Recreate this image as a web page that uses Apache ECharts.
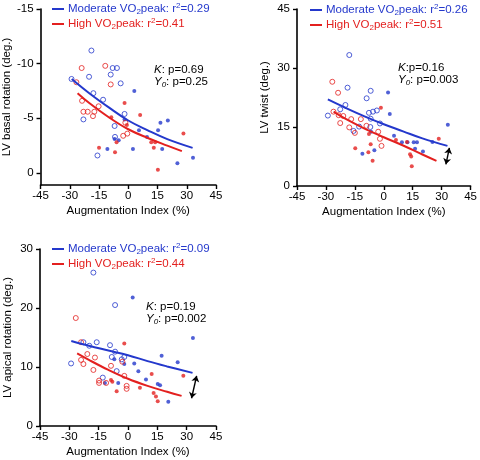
<!DOCTYPE html>
<html><head><meta charset="utf-8">
<script src="https://cdn.jsdelivr.net/npm/echarts@6/dist/echarts.min.js"></script>
<style>html,body{margin:0;padding:0;background:#fff}#c{width:480px;height:460px}</style>
</head><body><div id="c"></div>
<script>
const BLUE = '#2438cc', RED = '#e3201f';
const FONT = 'Liberation Sans, Arial, sans-serif';

// tick labels
const xTicks = [-45, -30, -15, 0, 15, 30, 45];
const p1YTicks = [-15, -10, -5, 0];
const p2YTicks = [0, 15, 30, 45];
const p3YTicks = [0, 10, 20, 30];

// legend names (series names of fitted curves)
const p1Names = ['Moderate VO2peak: r2=0.29', 'High VO2peak: r2=0.41'];
const p2Names = ['Moderate VO2peak: r2=0.26', 'High VO2peak: r2=0.51'];
const p3Names = ['Moderate VO2peak: r2=0.09', 'High VO2peak: r2=0.44'];
const p1Stats = ['0.69', '0.25'];
const p2Stats = ['0.16', '0.003'];
const p3Stats = ['0.19', '0.002'];

// Panel 1: LV basal rotation
const p1ModOpen = [[-18.9,-11.2],[-29.1,-8.6],[-8.0,-9.6],[-5.8,-9.6],[-20.1,-8.8],[-9.0,-9.0],[-3.9,-8.2],[-17.9,-7.3],[-12.9,-6.7],[-1.9,-5.4],[-23,-4.9],[-7,-4.3],[-6.8,-3.3],[-15.8,-1.6]];
const p1ModFilled = [[3.1,-7.5],[-1.9,-4.9],[5.5,-3.9],[9.6,-3.3],[16.5,-4.6],[15.3,-3.9],[20.3,-4.8],[17.4,-2.2],[2.4,-2.2],[-10.7,-2.2],[-4.9,-3.0],[-7,-3.1],[25.2,-0.9],[33.2,-1.4]];
const p1HighOpen = [[-23.9,-9.6],[-11.8,-9.8],[-9,-8.1],[-26.6,-8.3],[-23.7,-6.6],[-23,-5.6],[-20.8,-5.6],[-17.4,-5.6],[-18.1,-5.2],[-15.2,-6.1],[-1.5,-4.6],[-0.5,-3.6],[-2.6,-3.4]];
const p1HighFilled = [[-1.9,-6.4],[-8.7,-5.1],[6.1,-5.3],[-0.7,-4.4],[-6,-2.8],[-15,-2.3],[-6.8,-1.9],[11.8,-2.8],[13.8,-2.8],[13.1,-2.3],[28.3,-3.6],[15.2,-0.3]];
const p1ModFit = [[-29,-8.6],[-20,-7.3],[-10,-6.0],[0,-4.8],[10,-3.9],[20,-3.1],[33,-2.3]];
const p1HighFit = [[-26,-7.3],[-20,-6.4],[-10,-5.1],[0,-4.0],[10,-3.2],[20,-2.5],[27.5,-2.0]];

// Panel 2: LV twist
const p2ModOpen = [[-17.9,33.3],[-18.8,25.0],[-6.8,24.2],[-8.9,22.3],[-19.9,20.6],[-22.6,19.5],[-29,17.9],[-7.7,18.6],[-5.6,18.9],[-3.6,19.2],[-6.8,17.1],[-12.8,15.1],[-15.7,14.0],[-2,15.9],[-7,15.0]];
const p2ModFilled = [[2.2,23.8],[3.1,18.3],[33.2,15.6],[-6.6,13.8],[5.3,12.8],[9.4,11.1],[12.3,11.1],[15.5,11.1],[17.2,11.1],[25.2,11.2],[16.2,9.5],[20.3,8.8],[-4.9,9.1],[-11.1,8.2]];
const p2HighOpen = [[-26.7,26.5],[-23.7,23.7],[-26.1,18.9],[-23.4,18.0],[-21,17.8],[-22.6,16],[-16.9,17],[-11.9,17.0],[-17.9,14.9],[-15,13.5],[-9,15.3],[-2.9,13.8],[-2,12],[-1.2,10.2]];
const p2HighFilled = [[-1.5,19.9],[-7.7,13.2],[-14.8,9.6],[-6.8,10.6],[-8,8.6],[-5.8,6.4],[6.3,11.7],[12,11.2],[13.6,8.1],[14.2,7.5],[14.5,5],[28.5,12]];
const p2ModFit = [[-29,22.0],[-20,19.9],[-10,17.7],[0,15.7],[10,13.9],[20,12.1],[33,10.2]];
const p2HighFit = [[-26,18.9],[-20,17.1],[-10,14.6],[0,12.4],[10,10.3],[20,8.0],[27.3,6.4]];
const p2Arrow = [[34.0,9.7],[32.2,5.5]];

// Panel 3: LV apical rotation
const p3ModOpen = [[-17.7,26.0],[-6.6,20.5],[-29.1,10.6],[-22.8,14.2],[-19.8,13.6],[-16,14.2],[-9.2,13.7],[-6.6,12.6],[-8.3,11.7],[-1.9,11.7],[-3.2,11.3],[-5.8,9.3],[-12.9,8.2]];
const p3ModFilled = [[2.4,21.8],[33.2,14.9],[17.2,11.9],[25.4,10.8],[3.2,10.6],[-7,11.3],[-1.9,10.5],[5.3,9.3],[9.2,7.9],[15.2,7.1],[16.4,6.9],[-5,7.3],[-11.8,7.3],[20.6,4.1]];
const p3HighOpen = [[-26.7,18.3],[-24,14.2],[-24,11.2],[-22.8,10.5],[-20.8,12.2],[-16.9,11.6],[-17.7,9.5],[-14.8,7.7],[-14.8,7.3],[-11.2,7.3],[-8.7,10.2],[-2.9,10.9],[-1.9,8.5],[-0.7,6.8],[-0.7,6.3]];
const p3HighFilled = [[-1.9,14.0],[12.1,8.8],[28.3,8.5],[-8.7,7.8],[-8,7.5],[-5.8,5.9],[6.1,6.5],[13.1,5.6],[14.3,5.0],[15.2,4.2]];
const p3ModFit = [[-29,14.4],[-20,13.6],[-10,12.8],[0,12.0],[10,11.0],[20,10.1],[33,9.0]];
const p3HighFit = [[-26,12.3],[-20,11.2],[-10,9.5],[0,8.0],[10,6.8],[20,5.8],[27.4,5.1]];
const p3Arrow = [[35.1,8.5],[32.5,4.7]];

const FS = 11.5;
const axisLineStyle = {color: '#000', width: 1.6};

function xAxisCfg(gi) {
  return {
    type: 'value', gridIndex: gi, min: -45, max: 45, interval: 15,
    axisLine: {show: true, onZero: false, lineStyle: axisLineStyle},
    axisTick: {show: true, customValues: xTicks, length: 4, lineStyle: {color: '#000', width: 1.4}},
    axisLabel: {customValues: xTicks, margin: 5, color: '#000', fontSize: FS, fontFamily: FONT},
    splitLine: {show: false},
    name: 'Augmentation Index (%)', nameLocation: 'middle', nameGap: 20,
    nameTextStyle: {color: '#000', fontSize: FS, fontFamily: FONT}
  };
}
function yAxisCfg(gi, min, max, interval, ticks, name, inverse) {
  return {
    type: 'value', gridIndex: gi, min: min, max: max, interval: interval, inverse: !!inverse,
    axisLine: {show: true, onZero: false, lineStyle: axisLineStyle},
    axisTick: {show: true, customValues: ticks, length: 4, lineStyle: {color: '#000', width: 1.4}},
    axisLabel: {customValues: ticks, margin: 7, color: '#000', fontSize: FS, fontFamily: FONT},
    splitLine: {show: false},
    name: name, nameLocation: 'middle', nameGap: 26,
    nameTextStyle: {color: '#000', fontSize: FS, fontFamily: FONT}
  };
}

function richFor(color, k) {
  const r = {};
  r['t' + k] = {color: color, fontSize: FS, fontFamily: FONT, lineHeight: 14};
  r['s' + k] = {color: color, fontSize: 8, fontFamily: FONT, lineHeight: 8, verticalAlign: 'bottom'};
  r['p' + k] = {color: color, fontSize: 8, fontFamily: FONT, lineHeight: 8, verticalAlign: 'top'};
  return r;
}
const legendRich = Object.assign({}, richFor(BLUE, 'b'), richFor(RED, 'r'));
function legendFmt(name) {
  const k = name.indexOf('Moderate') === 0 ? 'b' : 'r';
  const m = name.match(/^(.*)VO2peak: r2=(.*)$/);
  return '{t' + k + '|' + m[1] + 'VO}{s' + k + '|2}{t' + k + '|peak: r}{p' + k + '|2}{t' + k + '|=' + m[2] + '}';
}
function legendCfg(names, left, top) {
  return {
    data: names, left: left, top: top, orient: 'vertical', itemGap: 1,
    itemWidth: 12, itemHeight: 2, icon: 'rect', padding: 0, selectedMode: false,
    formatter: legendFmt, textStyle: {rich: legendRich, padding: [0, 0, 0, -1]}
  };
}
const statRich = {
  i: {fontStyle: 'italic', fontWeight: 'normal', color: '#000', fontSize: FS, fontFamily: FONT, lineHeight: 12.5},
  is: {fontStyle: 'italic', fontWeight: 'normal', color: '#000', fontSize: 8, fontFamily: FONT, lineHeight: 8, verticalAlign: 'bottom'},
  n: {fontWeight: 'normal', color: '#000', fontSize: FS, fontFamily: FONT, lineHeight: 12.5}
};
function statCfg(stats, left, top, sep) {
  return {
    text: '{i|K}{n|:' + sep + 'p=' + stats[0] + '}\n{i|Y}{is|0}{n|: p=' + stats[1] + '}',
    left: left, top: top, padding: 0,
    textStyle: {rich: statRich, fontSize: FS, fontWeight: 'normal', lineHeight: 12.5}
  };
}

function scatter(data, gi, color, open) {
  return {
    type: 'scatter', xAxisIndex: gi, yAxisIndex: gi, data: data,
    symbol: 'circle', symbolSize: open ? 5 : 4, silent: true, z: 2,
    itemStyle: open ? {color: 'rgba(0,0,0,0)', borderColor: color, borderWidth: 1} : {color: color, borderWidth: 0}
  };
}
function fit(name, data, gi, color) {
  return {
    type: 'line', name: name, xAxisIndex: gi, yAxisIndex: gi, data: data,
    smooth: 0.4, showSymbol: false, symbol: 'none', color: color, silent: true, z: 3,
    lineStyle: {color: color, width: 2}
  };
}
function arrow(coords, gi) {
  return {
    type: 'lines', coordinateSystem: 'cartesian2d', xAxisIndex: gi, yAxisIndex: gi,
    data: [{coords: coords}], symbol: ['arrow', 'arrow'], symbolSize: 6, silent: true, z: 4,
    lineStyle: {color: '#000', width: 1.4, opacity: 1}
  };
}

const option = {
  animation: false,
  backgroundColor: '#fff',
  textStyle: {fontFamily: FONT},
  grid: [
    {left: 40, right: 264, top: 9, bottom: 275},
    {left: 297, right: 7, top: 9, bottom: 274},
    {left: 40, right: 264, top: 249, bottom: 34}
  ],
  xAxis: [xAxisCfg(0), xAxisCfg(1), xAxisCfg(2)],
  yAxis: [
    yAxisCfg(0, -15, 1.1, 5, p1YTicks, 'LV basal rotation (deg.)', true),
    yAxisCfg(1, 0, 45, 15, p2YTicks, 'LV twist (deg.)'),
    yAxisCfg(2, 0, 30, 10, p3YTicks, 'LV apical rotation (deg.)')
  ],
  legend: [
    legendCfg(p1Names, 52, 2),
    legendCfg(p2Names, 310, 3),
    legendCfg(p3Names, 52, 242)
  ],
  title: [
    statCfg(p1Stats, 154, 63.5, ' '),
    statCfg(p2Stats, 398, 61.5, ''),
    statCfg(p3Stats, 146, 300.5, ' ')
  ],
  series: [
    scatter(p1ModOpen, 0, BLUE, true), scatter(p1ModFilled, 0, BLUE, false),
    scatter(p1HighOpen, 0, RED, true), scatter(p1HighFilled, 0, RED, false),
    fit(p1Names[0], p1ModFit, 0, BLUE), fit(p1Names[1], p1HighFit, 0, RED),

    scatter(p2ModOpen, 1, BLUE, true), scatter(p2ModFilled, 1, BLUE, false),
    scatter(p2HighOpen, 1, RED, true), scatter(p2HighFilled, 1, RED, false),
    fit(p2Names[0], p2ModFit, 1, BLUE), fit(p2Names[1], p2HighFit, 1, RED),
    arrow(p2Arrow, 1),

    scatter(p3ModOpen, 2, BLUE, true), scatter(p3ModFilled, 2, BLUE, false),
    scatter(p3HighOpen, 2, RED, true), scatter(p3HighFilled, 2, RED, false),
    fit(p3Names[0], p3ModFit, 2, BLUE), fit(p3Names[1], p3HighFit, 2, RED),
    arrow(p3Arrow, 2)
  ]
};
const chart = echarts.init(document.getElementById('c'));
chart.setOption(option);
</script>
</body></html>
